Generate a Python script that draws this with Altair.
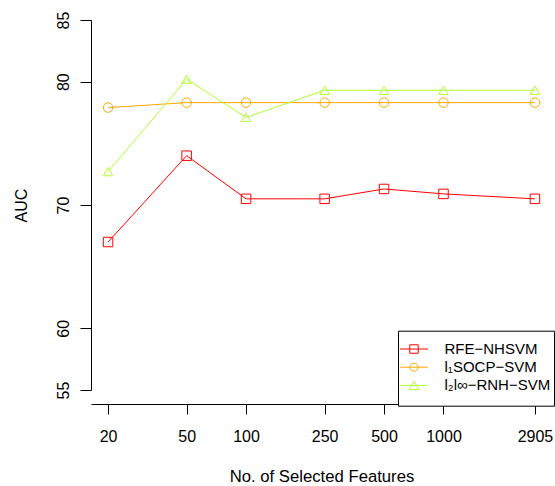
import altair as alt
import pandas as pd

features = [20, 50, 100, 250, 500, 1000, 2905]
series = ["RFE\u2212NHSVM", "l\u2081SOCP\u2212SVM", "l\u2082l\u221e\u2212RNH\u2212SVM"]
rfe_nhsvm = [67.0, 74.0, 70.5, 70.5, 71.3, 70.9, 70.5]
l1socp_svm = [77.9, 78.3, 78.3, 78.3, 78.3, 78.3, 78.3]
l2linf_rnh_svm = [72.7, 80.2, 77.1, 79.3, 79.3, 79.3, 79.3]
colors = ["#FF0000", "#FFA500", "#ADFF2F"]
shapes = ["square", "circle", "triangle-up"]
y_ticks = [55, 60, 70, 80, 85]

rows = []
for name, vals in zip(series, [rfe_nhsvm, l1socp_svm, l2linf_rnh_svm]):
    for f, v in zip(features, vals):
        rows.append({"features": f, "auc": v, "series": name})
df = pd.DataFrame(rows)
empty = pd.DataFrame({"features": pd.Series([], dtype=float),
                      "auc": pd.Series([], dtype=float),
                      "series": pd.Series([], dtype=str)})

FONT = "Liberation Sans"

x_enc = alt.X(
    "features:Q",
    scale=alt.Scale(type="log", domain=[16.39, 3545], nice=False),
    axis=alt.Axis(
        values=features, format="d", offset=14, tickSize=10, grid=False,
        domainColor="black", tickColor="black", labelColor="black",
        labelFont=FONT, labelFontSize=16, labelPadding=14, labelFlush=False,
        labelOverlap=False,
        title="No. of Selected Features", titleFont=FONT, titleFontSize=16.7,
        titleFontWeight="normal", titleColor="black",
        titleBaseline="middle", titleY=72, titleX=230.5, titleAnchor="middle",
    ),
)
y_enc = alt.Y(
    "auc:Q",
    scale=alt.Scale(domain=[55, 85], nice=False, zero=False),
    axis=alt.Axis(
        values=y_ticks, tickSize=11, grid=False,
        domainColor="black", tickColor="black", labelColor="black",
        labelFont=FONT, labelFontSize=16, labelAngle=270, labelAlign="center",
        labelBaseline="alphabetic", labelPadding=12, labelFlush=False,
        labelOverlap=False,
        title="AUC", titleFont=FONT, titleFontSize=16, titleFontWeight="normal",
        titleColor="black", titleAngle=270, titleAlign="center",
        titleBaseline="middle", titleX=-70, titleY=185,
    ),
)

# legend symbols (unit = 9 px): a line segment with the marker drawn over it
paths = [
    "M-1.556,0H1.556M-0.472,-0.472H0.472V0.472H-0.472Z",
    "M-1.556,0H1.556M-0.444,0A0.444,0.444,0,1,0,0.444,0A0.444,0.444,0,1,0,-0.444,0Z",
    "M-1.556,0H1.556M0,-0.481L-0.556,0.481L0.556,0.481ZM0,1.62L0,1.62",
]

legend = alt.Legend(
    title=" ", titleFontSize=1, titlePadding=4.8,
    orient="none", legendX=307, legendY=310.7,
    padding=3, strokeColor="black", fillColor="white", cornerRadius=0,
    symbolSize=324, symbolStrokeWidth=1, symbolOpacity=1, symbolOffset=3.5,
    symbolFillColor="transparent", gridAlign="each",
    labelFont=FONT, labelFontSize=15,
    labelColor="black", labelOffset=21, rowPadding=0.2,
    labelLimit=300,
)

color_scale = alt.Scale(domain=series, range=colors)

base = alt.Chart(df)
lines = base.mark_line(strokeWidth=1).encode(
    x=x_enc, y=y_enc,
    color=alt.Color("series:N", scale=color_scale, legend=None),
    detail="series:N",
)
points = base.mark_point(filled=False, strokeWidth=1, opacity=1, size=90).encode(
    x=x_enc, y=y_enc,
    color=alt.Color("series:N", scale=color_scale, legend=None),
    shape=alt.Shape("series:N", scale=alt.Scale(domain=series, range=shapes), legend=None),
)
legend_layer = alt.Chart(empty).mark_point(filled=False, strokeWidth=1, opacity=1, size=324).encode(
    x=x_enc, y=y_enc,
    color=alt.Color("series:N", scale=color_scale, legend=legend),
    shape=alt.Shape("series:N", scale=alt.Scale(domain=series, range=paths), legend=legend),
)

chart = alt.layer(lines, points, legend_layer).resolve_scale(
    shape="independent", color="independent"
).properties(
    width=461, height=370,
    autosize=alt.AutoSizeParams(type="none"),
    padding={"left": 91, "top": 20, "right": 3, "bottom": 96},
    background="white",
).configure_view(stroke=None)

chart.save("out.html", embed_options={"renderer": "svg", "actions": False})
